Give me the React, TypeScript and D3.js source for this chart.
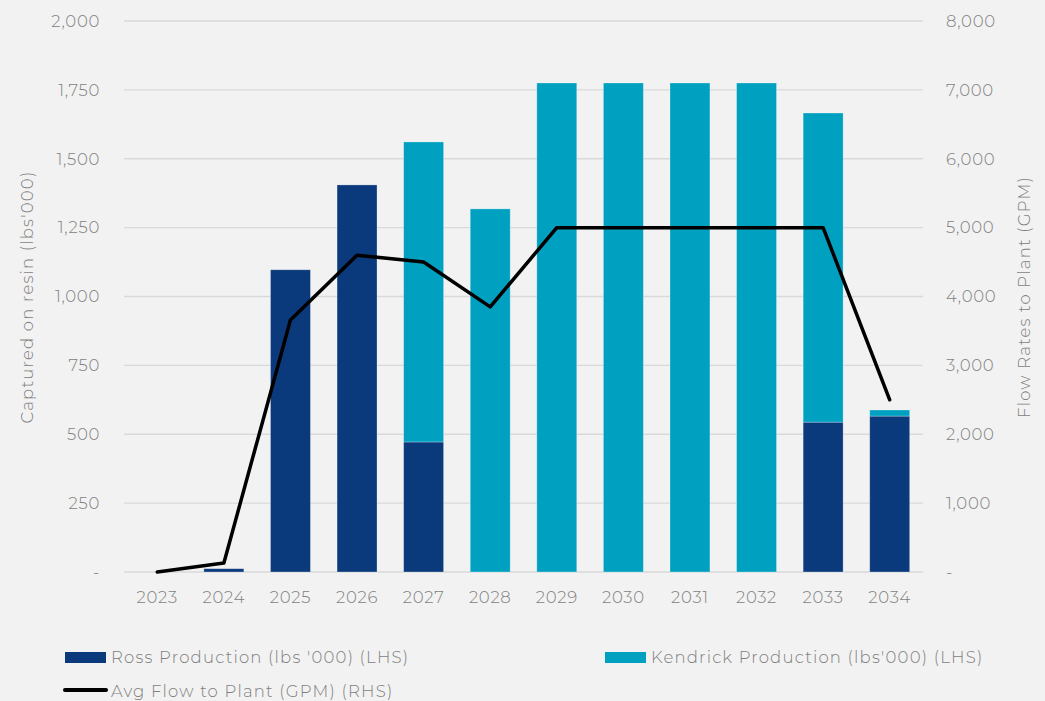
import React from "react";
import * as d3 from "d3";

const years = ["2023","2024","2025","2026","2027","2028","2029","2030","2031","2032","2033","2034"];
const ross = [0, 12, 1097, 1405, 472, 0, 0, 0, 0, 0, 544, 566];
const kendrick = [0, 0, 0, 0, 1089, 1318, 1775, 1775, 1775, 1775, 1122, 22];
const flow = [0, 130, 3660, 4600, 4500, 3850, 5000, 5000, 5000, 5000, 5000, 2500];
const leftTicks = [0, 250, 500, 750, 1000, 1250, 1500, 1750, 2000];
const rightTicks = [0, 1000, 2000, 3000, 4000, 5000, 6000, 7000, 8000];

const W = 1045, H = 701;
const M = { left: 124, right: 923, top: 21, bottom: 572 };
const FONT = "Montserrat, 'Open Sans', 'DejaVu Sans', sans-serif";
const TXT = "#7f7f7f";
const ROSS = "#0a3a7b";
const KEN = "#00a0c0";

export default function App() {
  const x = d3.scaleBand<string>().domain(years).range([M.left, M.right]).paddingInner(0.4).paddingOuter(0.2);
  const yL = d3.scaleLinear().domain([0, 2000]).range([M.bottom, M.top]);
  const yR = d3.scaleLinear().domain([0, 8000]).range([M.bottom, M.top]);
  const fmt = (v: number) => (v === 0 ? "-" : d3.format(",")(v));
  const cx = (y: string) => (x(y) as number) + x.bandwidth() / 2;
  const line = d3.line<number>().x((_, i) => cx(years[i])).y((d) => yR(d));

  return (
    <svg width={W} height={H} style={{ position: "absolute", left: 0, top: 0, background: "#f2f2f2" }} fontFamily={FONT} fontWeight={300}>
      <rect x={0} y={0} width={W} height={H} fill="#f2f2f2" />
      {leftTicks.map((t) => (
        <line key={t} x1={M.left} x2={M.right} y1={yL(t)} y2={yL(t)} stroke="#d9d9d9" strokeWidth={1.3} />
      ))}
      {leftTicks.map((t) => (
        <text key={"l" + t} x={100} y={yL(t)} dy="0.35em" textAnchor="end" fontSize={16.5} fill={TXT} letterSpacing={0.7}>{fmt(t)}</text>
      ))}
      {rightTicks.map((t) => (
        <text key={"r" + t} x={946} y={yR(t)} dy="0.35em" textAnchor="start" fontSize={16.5} fill={TXT} letterSpacing={0.7}>{fmt(t)}</text>
      ))}
      {years.map((yr, i) => (
        <g key={yr}>
          {ross[i] > 0 && (
            <rect x={x(yr)} width={x.bandwidth()} y={yL(ross[i])} height={yL(0) - yL(ross[i])} fill={ROSS} stroke="#ffffff" strokeOpacity={0.35} strokeWidth={0.8} />
          )}
          {kendrick[i] > 0 && (
            <rect x={x(yr)} width={x.bandwidth()} y={yL(ross[i] + kendrick[i])} height={yL(ross[i]) - yL(ross[i] + kendrick[i])} fill={KEN} stroke="#ffffff" strokeOpacity={0.35} strokeWidth={0.8} />
          )}
          <text x={cx(yr)} y={603} textAnchor="middle" fontSize={16.5} fill={TXT} letterSpacing={0.7}>{yr}</text>
        </g>
      ))}
      <path d={line(flow) || ""} fill="none" stroke="#000" strokeWidth={3.5} strokeLinejoin="round" strokeLinecap="round" />
      <text transform={`translate(33,297) rotate(-90)`} textAnchor="middle" fontSize={16.5} fill={TXT} letterSpacing={1.2}>Captured on resin (lbs'000)</text>
      <text transform={`translate(1030,297) rotate(-90)`} textAnchor="middle" fontSize={16.5} fill={TXT} letterSpacing={1.2}>Flow Rates to Plant (GPM)</text>
      <rect x={65} y={652} width={41} height={11} fill={ROSS} />
      <text x={111} y={663} fontSize={16.5} fill={TXT} letterSpacing={1.2}>Ross Production (lbs '000) (LHS)</text>
      <rect x={605} y={652} width={41} height={11} fill={KEN} />
      <text x={651} y={663} fontSize={16.5} fill={TXT} letterSpacing={1.2}>Kendrick Production (lbs'000) (LHS)</text>
      <line x1={65} x2={106} y1={690} y2={690} stroke="#000" strokeWidth={4} strokeLinecap="round" />
      <text x={111} y={697} fontSize={16.5} fill={TXT} letterSpacing={1.2}>Avg Flow to Plant (GPM) (RHS)</text>
    </svg>
  );
}
